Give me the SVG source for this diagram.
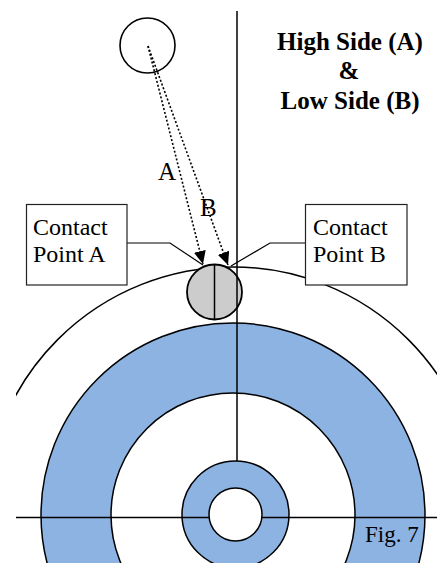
<svg xmlns="http://www.w3.org/2000/svg" width="437" height="563" viewBox="0 0 437 563">
<style>
.ln{stroke:#000;stroke-width:1.5;fill:none}
.blue{fill:#8db3e2;stroke:#000;stroke-width:1.5}
.hole{fill:#fff;stroke:#000;stroke-width:1.5}
.box{fill:#fff;stroke:#222;stroke-width:1.2}
.dot{stroke:#000;stroke-width:1.6;stroke-dasharray:2,2;fill:none}
.t{font-family:"Liberation Serif","Times New Roman",serif;fill:#000}
.b{font-weight:bold;font-size:25px;text-anchor:middle}
</style>
<defs>
<clipPath id="clip"><rect x="16" y="0" width="421" height="563"/></clipPath>
<marker id="ah" markerUnits="userSpaceOnUse" markerWidth="14" markerHeight="12" refX="13" refY="6" orient="auto">
<path d="M0,0 L13,6 L0,12 Z" fill="#000"/>
</marker>
</defs>
<g id="wheel" clip-path="url(#clip)">
<circle class="ln" cx="233" cy="515" r="248"/>
<circle class="blue" cx="233" cy="515" r="192"/>
<circle class="hole" cx="233" cy="515" r="122"/>
</g>
<g id="ball">
<circle cx="214.5" cy="292" r="27.5" fill="#cccccc" stroke="#000" stroke-width="1.8"/>
<line class="ln" x1="214.5" y1="264.5" x2="214.5" y2="319.5"/>
</g>
<g id="axes" clip-path="url(#clip)">
<line class="ln" x1="237" y1="11" x2="237" y2="461"/>
<circle class="blue" cx="235.5" cy="514.5" r="53.5"/>
<line class="ln" x1="16" y1="517.5" x2="437" y2="517.5"/>
<circle class="hole" cx="235.5" cy="514.5" r="26.5"/>
</g>
<g id="source">
<circle cx="147.5" cy="45.5" r="27.5" fill="none" stroke="#000" stroke-width="1.6"/>
</g>
<g id="connectors">
<line class="dot" x1="148" y1="46" x2="203" y2="264" marker-end="url(#ah)"/>
<line class="dot" x1="148" y1="46" x2="228" y2="265" marker-end="url(#ah)"/>
<polyline fill="none" stroke="#000" stroke-width="1.2" points="127,243 170,243 203,265"/>
<polyline fill="none" stroke="#000" stroke-width="1.2" points="305,243 270,243 231,266"/>
</g>
<g id="labelA"><text class="t" x="158" y="180" font-size="25">A</text></g>
<g id="labelB"><text class="t" x="200" y="216" font-size="25">B</text></g>
<g id="contactA">
<rect class="box" x="26.5" y="204.5" width="100.5" height="80.5"/>
<text class="t" x="33" y="235" font-size="24">Contact</text>
<text class="t" x="33" y="262" font-size="24">Point A</text>
</g>
<g id="contactB">
<rect class="box" x="305.5" y="204.5" width="101.5" height="80.5"/>
<text class="t" x="313" y="235" font-size="24">Contact</text>
<text class="t" x="313" y="262" font-size="24">Point B</text>
</g>
<g id="title">
<text class="t b" x="350" y="50">High Side (A)</text>
<text class="t b" x="349" y="79">&amp;</text>
<text class="t b" x="350" y="109">Low Side (B)</text>
</g>
<g id="fig"><text class="t" x="365" y="542" font-size="23">Fig. 7</text></g>
</svg>
